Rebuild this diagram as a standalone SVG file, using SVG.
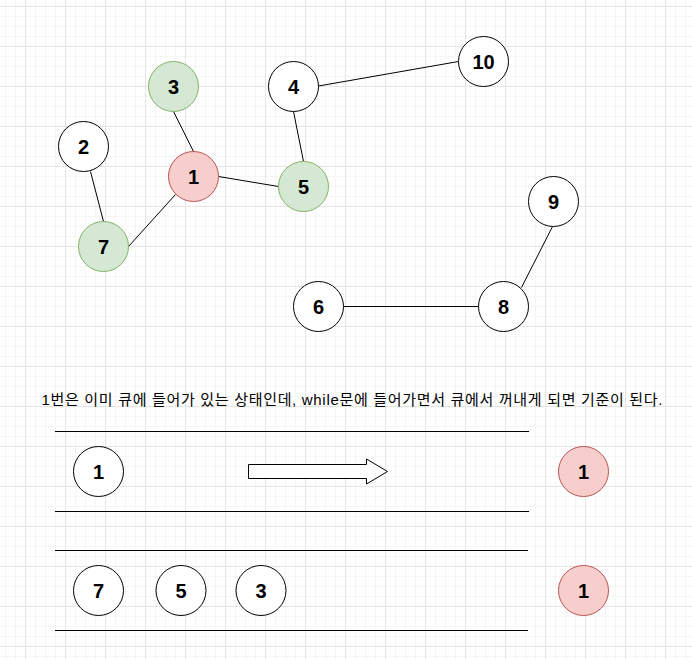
<svg xmlns="http://www.w3.org/2000/svg" width="692" height="659" viewBox="0 0 692 659">
<style>
.n{stroke:#000;stroke-width:1;fill:#fff}
.r{fill:#f8cecc;stroke:#b85450;stroke-width:1}
.g{fill:#d5e8d4;stroke:#82b366;stroke-width:1}
.t{font-family:"Liberation Sans",Arial,sans-serif;font-weight:bold;font-size:20px;text-anchor:middle;fill:#000}
.e{stroke:#000;stroke-width:1;fill:none}
</style>
<defs>
<pattern id="minor" patternUnits="userSpaceOnUse" x="5" y="6" width="10" height="10">
<path d="M0.5 0V10M0 0.5H10" stroke="#f5f5f5" stroke-width="1" fill="none"/>
</pattern>
<pattern id="major" patternUnits="userSpaceOnUse" x="25" y="6" width="40" height="40">
<path d="M0.5 0V40M0 0.5H40" stroke="#e4e4e4" stroke-width="1" fill="none"/>
</pattern>
</defs>
<rect width="692" height="659" fill="#fff"/>
<rect width="692" height="659" fill="url(#minor)"/>
<rect width="692" height="659" fill="url(#major)"/>

<g id="connectors">
<line class="e" x1="173.5" y1="111.5" x2="193.5" y2="151.5"/>
<line class="e" x1="90.5" y1="171.5" x2="103.5" y2="221.5"/>
<line class="e" x1="128.5" y1="246.5" x2="175.5" y2="194.5"/>
<line class="e" x1="218.5" y1="176.5" x2="278.5" y2="186.5"/>
<line class="e" x1="293.5" y1="111.5" x2="303.5" y2="161.5"/>
<line class="e" x1="318.5" y1="86" x2="458.5" y2="61.5"/>
<line class="e" x1="343.5" y1="306.5" x2="478.5" y2="306.5"/>
<line class="e" x1="521.5" y1="287.5" x2="552.5" y2="226.5"/>
<line class="e" x1="55" y1="431.5" x2="529" y2="431.5"/>
<line class="e" x1="55" y1="511.5" x2="529" y2="511.5"/>
<line class="e" x1="55" y1="550.5" x2="528" y2="550.5"/>
<line class="e" x1="55" y1="630.5" x2="528" y2="630.5"/>
</g>

<g id="node-2"><circle class="n" cx="83.5" cy="146.5" r="25"/><text class="t" x="83.5" y="153.5">2</text></g>
<g id="node-3"><circle class="g" cx="173.5" cy="86.5" r="25"/><text class="t" x="173.5" y="93.5">3</text></g>
<g id="node-1"><circle class="r" cx="193.5" cy="176.5" r="25"/><text class="t" x="193.5" y="183.5">1</text></g>
<g id="node-5"><circle class="g" cx="303.5" cy="186.5" r="25"/><text class="t" x="303.5" y="193.5">5</text></g>
<g id="node-7"><circle class="g" cx="103.5" cy="246.5" r="25"/><text class="t" x="103.5" y="253.5">7</text></g>
<g id="node-4"><circle class="n" cx="293.5" cy="86.5" r="25"/><text class="t" x="293.5" y="93.5">4</text></g>
<g id="node-10"><circle class="n" cx="483.5" cy="61.5" r="25"/><text class="t" x="483.5" y="68.5">10</text></g>
<g id="node-9"><circle class="n" cx="553.5" cy="201.5" r="25"/><text class="t" x="553.5" y="208.5">9</text></g>
<g id="node-6"><circle class="n" cx="318.5" cy="306.5" r="25"/><text class="t" x="318.5" y="313.5">6</text></g>
<g id="node-8"><circle class="n" cx="503.5" cy="306.5" r="25"/><text class="t" x="503.5" y="313.5">8</text></g>

<g id="caption"><text x="41.5" y="404.5" textLength="621" lengthAdjust="spacing" style="font-family:'Liberation Sans','Noto Sans CJK KR',sans-serif;font-size:15px;fill:#000">1번은 이미 큐에 들어가 있는 상태인데, while문에 들어가면서 큐에서 꺼내게 되면 기준이 된다.</text></g>

<g id="queue-1"><circle class="n" cx="98.5" cy="471.5" r="25"/><text class="t" x="98.5" y="478.5">1</text></g>
<g id="arrow"><polygon class="n" points="248.5,464.5 366.5,464.5 366.5,459 387.5,471.5 366.5,484 366.5,478.5 248.5,478.5"/></g>
<g id="result-1"><circle class="r" cx="583.5" cy="471.5" r="25"/><text class="t" x="583.5" y="478.5">1</text></g>

<g id="queue-7"><circle class="n" cx="98.5" cy="590.5" r="25"/><text class="t" x="98.5" y="597.5">7</text></g>
<g id="queue-5"><circle class="n" cx="181" cy="590.5" r="25"/><text class="t" x="181" y="597.5">5</text></g>
<g id="queue-3"><circle class="n" cx="261" cy="590.5" r="25"/><text class="t" x="261" y="597.5">3</text></g>
<g id="result-1b"><circle class="r" cx="583.5" cy="590.5" r="25"/><text class="t" x="583.5" y="597.5">1</text></g>
</svg>
